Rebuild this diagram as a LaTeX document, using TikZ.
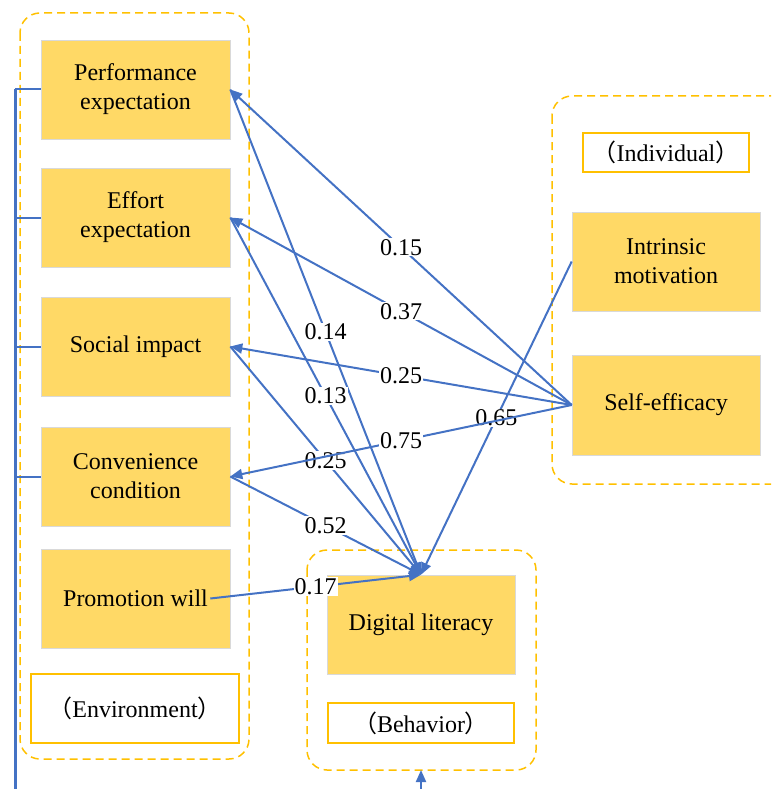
\documentclass[tikz,border=0pt]{standalone}
\usepackage{fontspec}
\setmainfont{Liberation Serif}
\newfontfamily\cjk{Noto Sans CJK SC}
\usetikzlibrary{arrows.meta}
\definecolor{boxfill}{HTML}{FFD966}
\definecolor{boxedge}{HTML}{D9D9D9}
\definecolor{gold}{HTML}{FFC000}
\definecolor{linkblue}{HTML}{4472C4}
\newcommand{\lp}{{\cjk （}}
\newcommand{\rp}{{\cjk ）}}
\tikzset{
  factor/.style={fill=boxfill, draw=boxedge, line width=0.6pt, minimum width=189pt,
    minimum height=99pt, align=center, inner sep=0pt,
    font=\fontsize{24}{29}\selectfont},
  tag/.style={fill=white, draw=gold, line width=1.2pt, align=center, inner sep=0pt,
    font=\fontsize{24}{29}\selectfont},
  zone/.style={draw=gold, dash pattern=on 8pt off 5pt, line width=1.5pt, rounded corners=20pt},
  flow/.style={draw=linkblue, line width=2pt, -{Triangle[length=12pt,width=10pt]}},
  coef/.style={fill=white, inner sep=1pt, pos=0.5, font=\fontsize{24}{24}\selectfont},
}
\begin{document}
\begin{tikzpicture}[x=1pt, y=-1pt]
  \useasboundingbox (0,0) rectangle (771,789);

  % group frames
  \draw[zone] (20,13) rectangle (249,759);
  \draw[zone] (307,550) rectangle (536,770);
  \begin{scope}
    \clip (0,0) rectangle (771,789);
    \draw[zone] (552,96) rectangle (800,484);
  \end{scope}

  % environment factors
  \node[factor] (perf) at (135.5,89.5) {Performance\\expectation};
  \node[factor] (effort) at (135.5,217.5) {Effort\\expectation};
  \node[factor] (social) at (135.5,346.5) {Social impact};
  \node[factor] (conv) at (135.5,476.5) {Convenience\\condition};
  \node[factor] (prom) at (135.5,598.5) {Promotion will};
  \node[tag, minimum width=208pt, minimum height=69pt] (envtag) at (135,708.5) {\lp Environment\rp};

  % individual factors
  \node[tag, minimum width=166pt, minimum height=39pt] (indtag) at (666,152.5) {\lp Individual\rp};
  \node[factor, minimum width=188pt] (intr) at (666,261.5) {Intrinsic\\motivation};
  \node[factor, minimum width=188pt, minimum height=100pt] (self) at (666,405) {Self-efficacy};

  % behaviour
  \node[factor, minimum width=188pt] (dl) at (421,624.5) {Digital literacy};
  \node[tag, minimum width=186pt, minimum height=40pt] (behtag) at (421,723) {\lp Behavior\rp};

  % left bus linking the environment factors
  \coordinate (busTop) at (15,89.5);
  \coordinate (busEnd) at (15,789);
  \draw[linkblue, line width=3pt] (busTop) -- (busEnd);
  \foreach \n in {perf,effort,social,conv}
    \draw[linkblue, line width=2pt] (\n.west) -- (\n.west -| busTop);

  % arrow entering the behaviour frame from below
  \coordinate (upFoot) at (421,789);
  \draw[flow] (upFoot) -- (421,770);

  % paths into digital literacy
  \draw[flow] (perf.east) -- (dl.north) node[coef] {0.14};
  \draw[flow] (effort.east) -- (dl.north) node[coef] {0.13};
  \draw[flow] (social.east) -- (dl.north) node[coef] {0.25};
  \draw[flow] (conv.east) -- (dl.north) node[coef] {0.52};
  \coordinate (promEnd) at ([xshift=-20pt]prom.east);
  \draw[flow] (promEnd) -- (dl.north) node[coef] {0.17};
  \draw[flow] (intr.west) -- (dl.north) node[coef] {0.65};

  % paths from self-efficacy
  \draw[flow] (self.west) -- (perf.east) node[coef] {0.15};
  \draw[flow] (self.west) -- (effort.east) node[coef] {0.37};
  \draw[flow] (self.west) -- (social.east) node[coef] {0.25};
  \draw[flow] (self.west) -- (conv.east) node[coef] {0.75};
\end{tikzpicture}
\end{document}
